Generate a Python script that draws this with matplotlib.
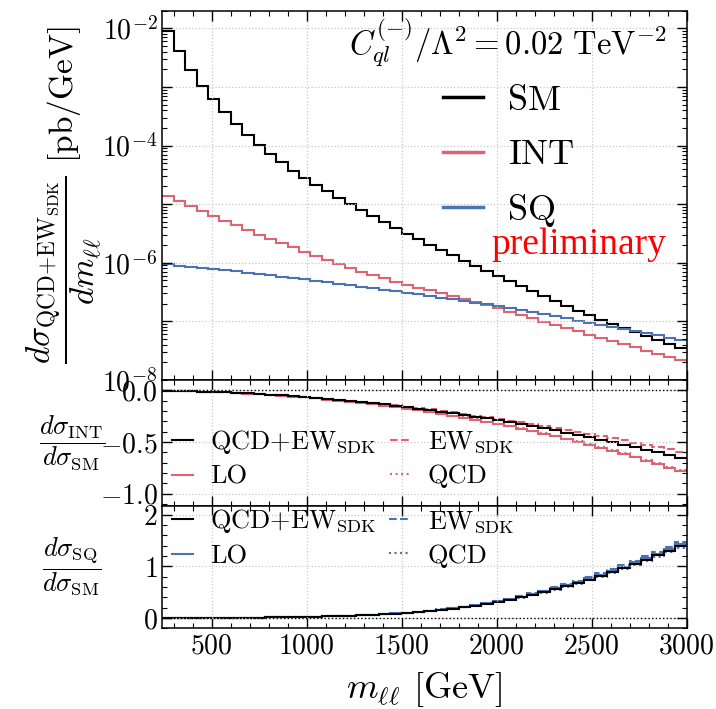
import numpy as np
import matplotlib
matplotlib.use("Agg")
import matplotlib.pyplot as plt
from matplotlib.lines import Line2D
from matplotlib.ticker import LogLocator, MultipleLocator, FuncFormatter, NullFormatter

plt.rcParams.update({
    "font.family": "serif",
    "font.serif": ["cmr10"],
    "mathtext.fontset": "cm",
    "axes.formatter.use_mathtext": True,
    "axes.unicode_minus": True,
})

# m_ll binning [GeV]
bin_edges = np.arange(240, 3001, 60)

# dsigma/dm_ll [pb/GeV], QCD+EW_SDK
sm = [9.12e-3, 4.07e-3, 1.95e-3, 1.05e-3, 6.17e-4, 3.72e-4, 2.29e-4, 1.51e-4, 1.02e-4, 7.08e-5,
      5.13e-5, 3.72e-5, 2.82e-5, 2.16e-5, 1.66e-5, 1.29e-5, 1.01e-5, 7.93e-6, 6.25e-6, 4.95e-6,
      3.94e-6, 3.15e-6, 2.53e-6, 2.04e-6, 1.64e-6, 1.33e-6, 1.08e-6, 8.79e-7, 7.16e-7, 5.86e-7,
      4.80e-7, 3.94e-7, 3.24e-7, 2.66e-7, 2.20e-7, 1.82e-7, 1.52e-7, 1.27e-7, 1.07e-7, 9.02e-8,
      7.64e-8, 6.49e-8, 5.53e-8, 4.74e-8, 4.07e-8, 3.51e-8]
int_abs = [1.35e-5, 1.12e-5, 9.33e-6, 7.59e-6, 6.31e-6, 5.25e-6, 4.37e-6, 3.63e-6, 3.02e-6, 2.51e-6,
           2.14e-6, 1.82e-6, 1.55e-6, 1.32e-6, 1.12e-6, 9.55e-7, 8.13e-7, 7.05e-7, 6.15e-7, 5.40e-7,
           4.76e-7, 4.23e-7, 3.77e-7, 3.37e-7, 3.03e-7, 2.71e-7, 2.42e-7, 2.14e-7, 1.88e-7, 1.66e-7,
           1.46e-7, 1.28e-7, 1.12e-7, 9.91e-8, 8.71e-8, 7.67e-8, 6.76e-8, 5.96e-8, 5.25e-8, 4.62e-8,
           4.07e-8, 3.59e-8, 3.17e-8, 2.79e-8, 2.47e-8, 2.17e-8]
sq = [9.33e-7, 8.95e-7, 8.57e-7, 8.20e-7, 7.83e-7, 7.48e-7, 7.13e-7, 6.79e-7, 6.46e-7, 6.14e-7,
      5.82e-7, 5.52e-7, 5.22e-7, 4.94e-7, 4.67e-7, 4.41e-7, 4.15e-7, 3.91e-7, 3.68e-7, 3.47e-7,
      3.26e-7, 3.06e-7, 2.88e-7, 2.70e-7, 2.54e-7, 2.38e-7, 2.23e-7, 2.08e-7, 1.95e-7, 1.82e-7,
      1.69e-7, 1.56e-7, 1.45e-7, 1.33e-7, 1.23e-7, 1.13e-7, 1.03e-7, 9.44e-8, 8.69e-8, 8.00e-8,
      7.36e-8, 6.78e-8, 6.24e-8, 5.74e-8, 5.28e-8, 4.86e-8]

# INT / SM ratios
int_ratio_full = [-0.0043, -0.0065, -0.0092, -0.0125, -0.0162, -0.0205, -0.0253, -0.0306, -0.0365, -0.0428,
                  -0.0498, -0.0573, -0.0653, -0.0739, -0.0831, -0.0928, -0.1030, -0.1139, -0.1253, -0.1373,
                  -0.1498, -0.1629, -0.1767, -0.1909, -0.2058, -0.2213, -0.2373, -0.2540, -0.2712, -0.2890,
                  -0.3074, -0.3264, -0.3460, -0.3663, -0.3871, -0.4085, -0.4305, -0.4531, -0.4763, -0.5002,
                  -0.5247, -0.5498, -0.5755, -0.6017, -0.6286, -0.6562]
int_ratio_lo = [-0.0044, -0.0066, -0.0095, -0.0128, -0.0168, -0.0213, -0.0263, -0.0320, -0.0383, -0.0451,
                -0.0526, -0.0608, -0.0695, -0.0790, -0.0891, -0.0999, -0.1112, -0.1235, -0.1363, -0.1499,
                -0.1641, -0.1791, -0.1950, -0.2114, -0.2287, -0.2468, -0.2655, -0.2852, -0.3056, -0.3268,
                -0.3488, -0.3716, -0.3953, -0.4199, -0.4452, -0.4715, -0.4985, -0.5265, -0.5553, -0.5851,
                -0.6158, -0.6474, -0.6799, -0.7132, -0.7475, -0.7829]
int_ratio_ew = [-0.0043, -0.0065, -0.0092, -0.0124, -0.0162, -0.0204, -0.0252, -0.0305, -0.0363, -0.0425,
                -0.0494, -0.0568, -0.0646, -0.0730, -0.0820, -0.0915, -0.1014, -0.1119, -0.1229, -0.1344,
                -0.1464, -0.1589, -0.1720, -0.1854, -0.1995, -0.2140, -0.2290, -0.2445, -0.2604, -0.2767,
                -0.2936, -0.3109, -0.3286, -0.3468, -0.3654, -0.3844, -0.4038, -0.4236, -0.4438, -0.4644,
                -0.4854, -0.5068, -0.5285, -0.5504, -0.5727, -0.5954]
int_ratio_qcd = [-0.0043, -0.0066, -0.0094, -0.0127, -0.0166, -0.0210, -0.0261, -0.0317, -0.0379, -0.0446,
                 -0.0521, -0.0602, -0.0688, -0.0782, -0.0882, -0.0989, -0.1101, -0.1223, -0.1349, -0.1484,
                 -0.1625, -0.1773, -0.1931, -0.2093, -0.2264, -0.2443, -0.2628, -0.2823, -0.3025, -0.3235,
                 -0.3453, -0.3679, -0.3913, -0.4157, -0.4407, -0.4668, -0.4935, -0.5212, -0.5497, -0.5792,
                 -0.6096, -0.6409, -0.6731, -0.7061, -0.7400, -0.7751]

# SQ / SM ratios
sq_ratio_full = [1.0e-4, 2.2e-4, 4.4e-4, 7.8e-4, 0.00127, 0.00201, 0.00311, 0.00449, 0.0063, 0.0087,
                 0.0114, 0.0149, 0.0185, 0.0229, 0.0281, 0.0341, 0.0411, 0.0493, 0.0589, 0.0700,
                 0.0826, 0.0971, 0.1138, 0.1327, 0.1542, 0.1786, 0.2065, 0.2371, 0.2723, 0.3097,
                 0.3516, 0.397, 0.447, 0.501, 0.558, 0.618, 0.681, 0.743, 0.813, 0.887,
                 0.964, 1.045, 1.127, 1.211, 1.297, 1.387]
sq_ratio_lo = [1.0e-4, 2.3e-4, 4.5e-4, 8.0e-4, 0.00131, 0.00207, 0.0032, 0.00462, 0.0065, 0.0090,
               0.0117, 0.0153, 0.0191, 0.0236, 0.0289, 0.0351, 0.0423, 0.0508, 0.0607, 0.0721,
               0.0851, 0.1000, 0.1172, 0.1367, 0.1588, 0.1840, 0.2127, 0.2442, 0.2805, 0.3190,
               0.3621, 0.409, 0.460, 0.516, 0.575, 0.637, 0.701, 0.765, 0.837, 0.914,
               0.993, 1.076, 1.161, 1.247, 1.336, 1.429]
sq_ratio_ew = [1.1e-4, 2.3e-4, 4.7e-4, 8.3e-4, 0.00135, 0.00213, 0.0033, 0.00476, 0.0067, 0.0092,
               0.0121, 0.0158, 0.0196, 0.0243, 0.0298, 0.0361, 0.0436, 0.0523, 0.0624, 0.0742,
               0.0876, 0.1029, 0.1206, 0.1407, 0.1635, 0.1893, 0.2189, 0.2513, 0.2886, 0.3283,
               0.3727, 0.421, 0.474, 0.531, 0.591, 0.655, 0.722, 0.788, 0.862, 0.940,
               1.022, 1.108, 1.195, 1.284, 1.375, 1.470]
sq_ratio_qcd = [1.0e-4, 2.2e-4, 4.3e-4, 7.6e-4, 0.00124, 0.00197, 0.00305, 0.0044, 0.0062, 0.0085,
                0.0112, 0.0146, 0.0181, 0.0224, 0.0275, 0.0334, 0.0403, 0.0483, 0.0577, 0.0686,
                0.0809, 0.0952, 0.1115, 0.1300, 0.1511, 0.1750, 0.2024, 0.2324, 0.2669, 0.3035,
                0.3446, 0.389, 0.438, 0.491, 0.547, 0.606, 0.667, 0.728, 0.797, 0.869,
                0.945, 1.024, 1.104, 1.187, 1.271, 1.359]

x_ticks = [500, 1000, 1500, 2000, 2500, 3000]

C_SM = "black"
C_INT = "#dd6472"
C_SQ = "#4c72b0"
LW = 1.5

fig = plt.figure(figsize=(7.16, 7.09), dpi=100)
gs = fig.add_gridspec(3, 1, height_ratios=[369, 126, 122], hspace=0.0,
                      left=0.2267, right=0.959, top=0.985, bottom=0.114)
ax0 = fig.add_subplot(gs[0])
ax1 = fig.add_subplot(gs[1], sharex=ax0)
ax2 = fig.add_subplot(gs[2], sharex=ax0)


def style_axis(ax):
    ax.tick_params(which="both", direction="in", top=True, right=True, labelsize=20)
    ax.tick_params(which="major", length=7, width=1.0)
    ax.tick_params(which="minor", length=3.5, width=0.8)
    ax.grid(True, which="major", ls=":", color="#c8c8c8", lw=0.9)
    for sp in ax.spines.values():
        sp.set_linewidth(1.1)
    ax.xaxis.set_minor_locator(MultipleLocator(100))


# --- main panel ---
ax0.stairs(sm, bin_edges, baseline=None, color=C_SM, lw=LW)
ax0.stairs(int_abs, bin_edges, baseline=None, color=C_INT, lw=LW)
ax0.stairs(sq, bin_edges, baseline=None, color=C_SQ, lw=LW)
ax0.set_yscale("log")
ax0.set_ylim(1e-8, 2e-2)
ax0.set_xlim(240, 3000)
ax0.yaxis.set_major_locator(LogLocator(base=10, numticks=20))
ax0.yaxis.set_minor_locator(LogLocator(base=10, subs=np.arange(2, 10), numticks=100))
ax0.yaxis.set_minor_formatter(NullFormatter())


def even_decades(v, pos):
    e = int(np.round(np.log10(v)))
    return r"$10^{%d}$" % e if e % 2 == 0 else ""


ax0.yaxis.set_major_formatter(FuncFormatter(even_decades))
style_axis(ax0)
ax0.tick_params(labelbottom=False)
ax0.set_ylabel(r"$\dfrac{d\sigma_{\mathrm{QCD{+}EW_{SDK}}}}{dm_{\ell\ell}}$ [pb/GeV]", fontsize=24)
ax0.yaxis.set_label_coords(-0.112, 0.5)

ax0.text(0.962, 0.915, r"$C_{ql}^{(-)}/\Lambda^2 = 0.02\ \mathrm{TeV}^{-2}$", transform=ax0.transAxes,
         ha="right", va="center", fontsize=23.5)
ax0.text(0.962, 0.367, "preliminary", transform=ax0.transAxes, ha="right", va="center",
         fontsize=27, color="red", family="Liberation Serif")

main_handles = [Line2D([], [], color=C_SM, lw=2.5), Line2D([], [], color=C_INT, lw=2.5),
                Line2D([], [], color=C_SQ, lw=2.5)]
ax0.legend(main_handles, ["SM", "INT", "SQ"], loc="upper left", bbox_to_anchor=(0.535, 0.80),
           frameon=False, fontsize=26, handlelength=1.1, handletextpad=0.7, labelspacing=0.62,
           borderpad=0, borderaxespad=0)

# --- INT / SM ---
ax1.stairs(int_ratio_qcd, bin_edges, baseline=None, color=C_INT, lw=LW, ls=":")
ax1.stairs(int_ratio_lo, bin_edges, baseline=None, color=C_INT, lw=LW)
ax1.stairs(int_ratio_ew, bin_edges, baseline=None, color=C_INT, lw=LW, ls="--")
ax1.stairs(int_ratio_full, bin_edges, baseline=None, color=C_SM, lw=LW)
ax1.axhline(0, color="black", ls=":", lw=1.0)
ax1.set_ylim(-1.12, 0.1)
ax1.yaxis.set_major_locator(MultipleLocator(0.5))
ax1.yaxis.set_minor_locator(MultipleLocator(0.1))
ax1.yaxis.set_major_formatter(FuncFormatter(lambda v, p: r"$%.1f$" % v if abs(v) > 1e-9 else r"$0.0$"))
style_axis(ax1)
ax1.tick_params(labelbottom=False)
ax1.set_ylabel(r"$\dfrac{d\sigma_{\mathrm{INT}}}{d\sigma_{\mathrm{SM}}}$", fontsize=19, rotation=0,
               ha="center", va="center")

int_handles = [Line2D([], [], color=C_SM, lw=LW), Line2D([], [], color=C_INT, lw=LW),
               Line2D([], [], color=C_INT, lw=LW, ls="--"), Line2D([], [], color=C_INT, lw=LW, ls=":")]
labels = [r"QCD+EW$_{\mathrm{SDK}}$", "LO", r"EW$_{\mathrm{SDK}}$", "QCD"]
ax1.legend(int_handles, labels, loc="lower left", bbox_to_anchor=(0.008, 0.095), ncol=2,
           frameon=False, fontsize=19, handlelength=0.8, handletextpad=0.65, columnspacing=0.5,
           labelspacing=0.35, borderpad=0.2, borderaxespad=0)

# --- SQ / SM ---
ax2.stairs(sq_ratio_qcd, bin_edges, baseline=None, color=C_SQ, lw=LW, ls=":")
ax2.stairs(sq_ratio_lo, bin_edges, baseline=None, color=C_SQ, lw=LW)
ax2.stairs(sq_ratio_ew, bin_edges, baseline=None, color=C_SQ, lw=LW, ls="--")
ax2.stairs(sq_ratio_full, bin_edges, baseline=None, color=C_SM, lw=LW)
ax2.axhline(0, color="black", ls=":", lw=1.0)
ax2.set_ylim(-0.2, 2.17)
ax2.yaxis.set_major_locator(MultipleLocator(1))
ax2.yaxis.set_minor_locator(MultipleLocator(0.2))
style_axis(ax2)
ax2.set_xticks(x_ticks)
ax2.set_ylabel(r"$\dfrac{d\sigma_{\mathrm{SQ}}}{d\sigma_{\mathrm{SM}}}$", fontsize=19, rotation=0,
               ha="center", va="center")
ax2.set_xlabel(r"$m_{\ell\ell}$ [GeV]", fontsize=26, labelpad=8)

sq_handles = [Line2D([], [], color=C_SM, lw=LW), Line2D([], [], color=C_SQ, lw=LW),
              Line2D([], [], color=C_SQ, lw=LW, ls="--"), Line2D([], [], color=C_SQ, lw=LW, ls=":")]
ax2.legend(sq_handles, labels, loc="upper left", bbox_to_anchor=(0.015, 1.0), ncol=2,
           frameon=False, fontsize=19, handlelength=0.8, handletextpad=0.65, columnspacing=0.5,
           labelspacing=0.35, borderpad=0.05, borderaxespad=0)

ax1.yaxis.set_label_coords(-0.172, 0.5)
ax2.yaxis.set_label_coords(-0.172, 0.5)

fig.savefig("out.png", dpi=100)
